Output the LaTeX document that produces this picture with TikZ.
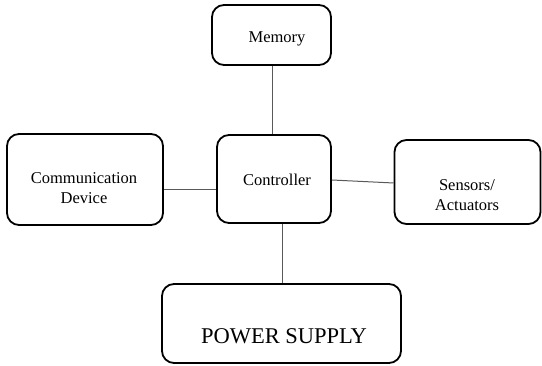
\documentclass[tikz,border=0pt]{standalone}
\usepackage{fontspec}
\setmainfont{Liberation Serif}
\newfontfamily\diagfont{Liberation Serif}
\begin{document}
\begin{tikzpicture}[x=1pt,y=1pt,
  box/.style={draw=black,line width=1.8pt,rounded corners=12pt,fill=white,inner sep=0pt},
  lbl/.style={align=center,font=\diagfont\fontsize{16.5}{20}\selectfont,inner sep=0pt},
  biglbl/.style={font=\diagfont\fontsize{22.5}{26}\selectfont,inner sep=0pt},
  conn/.style={draw=black!65,line width=1pt}]
\useasboundingbox (0,0) rectangle (542,366);
\node[box,minimum width=119,minimum height=60] (mem) at (271.5,331) {};
\node[box,minimum width=114,minimum height=88] (ctrl) at (274,187) {};
\node[box,minimum width=156,minimum height=91] (comm) at (85,186.5) {};
\node[box,minimum width=146,minimum height=84] (sens) at (467.5,184) {};
\node[box,minimum width=239,minimum height=79] (pow) at (281.5,42.5) {};
\node[lbl] (memt) at (277,327) {Memory};
\node[lbl] (ctrlt) at (277,186.5) {Controller};
\node[lbl] (commt) at (84,178) {Communication\\Device};
\node[lbl] (senst) at (467,171) {Sensors/\\Actuators};
\node[biglbl] (powt) at (284,30) {POWER SUPPLY};
\draw[conn] ([xshift=0.5]mem.south) -- ([xshift=0.5]mem.south |- ctrl.north);
\draw[conn] ([yshift=-10]comm.east) -- ([yshift=-10]comm.east -| ctrl.west);
\draw[conn] ([yshift=-1]ctrl.east) -- ([yshift=-1]sens.west);
\draw[conn] ([xshift=8]ctrl.south) -- ([xshift=8]ctrl.south |- pow.north);
\end{tikzpicture}
\end{document}
